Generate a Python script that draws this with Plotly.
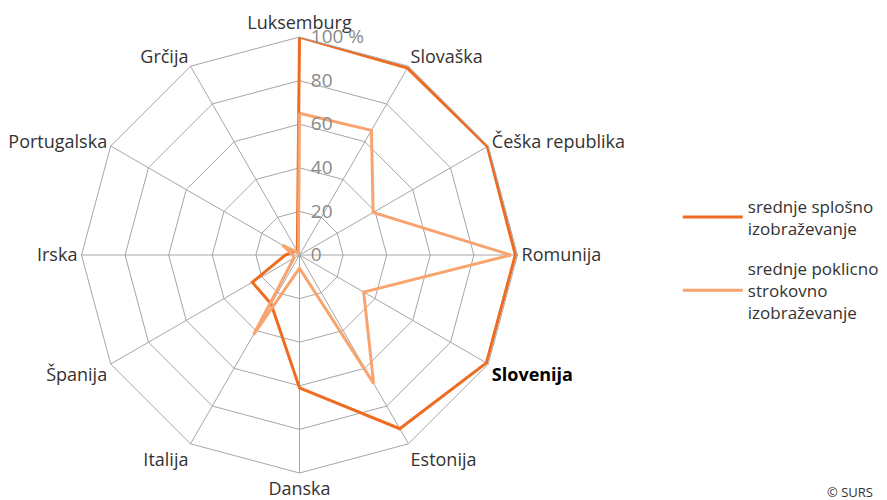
import plotly.graph_objects as go

FONT = "Open Sans"
DARK_ORANGE = "#EF6B20"
LIGHT_ORANGE = "#F8A46F"
GRID_COLOR = "#a6a6a6"

# page has an 8px body margin, so the figure is sized to fill the rest
W, H = 879, 492

categories = [
    "Luksemburg", "Slovaška", "Češka republika", "Romunija",
    "<span style='color:#000000'><b>Slovenija</b></span>",
    "Estonija", "Danska", "Italija", "Španija", "Irska", "Portugalska", "Grčija",
]
splosno = [100, 99, 99.5, 99, 99, 92, 61, 26, 25, 6.5, 3, 2]
poklicno = [65, 66, 39, 97, 34, 68, 6, 42, 3, 3, 9, 1]

radial_ticks = [0, 20, 40, 60, 80, 100]
radial_labels = ["0", "20", "40", "60", "80", "100 %"]

series = [
    ("srednje splošno<br>izobraževanje", splosno, DARK_ORANGE),
    ("srednje poklicno<br>strokovno<br>izobraževanje", poklicno, LIGHT_ORANGE),
]

fig = go.Figure()
for i, (name, values, color) in enumerate(series):
    fig.add_trace(go.Scatterpolar(
        r=values + values[:1],
        theta=categories + categories[:1],
        mode="lines",
        name=name,
        legendgroup=f"g{i}",
        line=dict(color=color, width=3),
    ))

fig.update_layout(
    width=W,
    height=H,
    margin=dict(l=0, r=0, t=0, b=0, autoexpand=False),
    paper_bgcolor="white",
    font=dict(family=FONT, size=17, color="#333333"),
    polar=dict(
        domain=dict(x=[73.5 / W, 509.5 / W], y=[27 / H, 463 / H]),
        bgcolor="white",
        gridshape="linear",
        angularaxis=dict(
            direction="clockwise",
            rotation=90,
            showline=True,
            linecolor=GRID_COLOR,
            linewidth=1,
            gridcolor=GRID_COLOR,
            gridwidth=1,
            ticks="",
            tickfont=dict(family=FONT, size=18, color="#333333"),
        ),
        radialaxis=dict(
            range=[0, 100],
            angle=90,
            tickangle=90,
            tickvals=radial_ticks,
            ticktext=radial_labels,
            showline=False,
            gridcolor=GRID_COLOR,
            gridwidth=1,
            ticks="outside",
            ticklen=7,
            tickcolor="rgba(0,0,0,0)",
            tickfont=dict(family=FONT, size=19, color="#8a8a8a"),
            layer="above traces",
        ),
    ),
    showlegend=True,
    legend=dict(
        x=0.762,
        y=0.489,
        xanchor="left",
        yanchor="middle",
        itemwidth=60,
        font=dict(family=FONT, size=17, color="#333333"),
        tracegroupgap=15,
        bgcolor="rgba(0,0,0,0)",
    ),
)

fig.add_annotation(
    text="© SURS",
    x=867 / W, y=8 / H, xref="paper", yref="paper",
    xanchor="right", yanchor="middle",
    showarrow=False,
    font=dict(family=FONT, size=13, color="#333333"),
)

fig.write_html("out.html")
